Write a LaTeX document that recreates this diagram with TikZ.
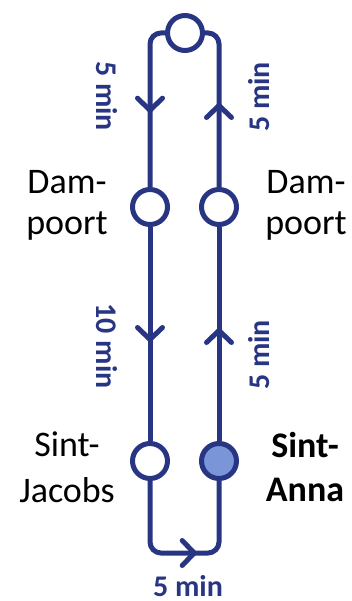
\documentclass[tikz,border=0pt]{standalone}
\usepackage{fontspec}
\setmainfont{Carlito}
\usetikzlibrary{arrows.meta,decorations.markings}
\definecolor{lineblue}{HTML}{283583}
\definecolor{fillblue}{HTML}{7B96D8}
\begin{document}
\begin{tikzpicture}[x=1pt,y=-1pt,
  stop/.style={circle,draw=lineblue,line width=5pt,fill=white,minimum size=35pt,inner sep=0pt},
  track/.style={draw=lineblue,line width=5pt,rounded corners=11pt},
  arrowat/.style={postaction={decorate,decoration={markings,mark=at position #1 with {\arrow{Straight Barb[length=12pt,width=25pt,round]}}}}},
  tlabel/.style={text=lineblue,font=\bfseries\fontsize{30}{32}\selectfont,inner sep=0pt},
  slabel/.style={text=black,font=\fontsize{36}{41}\selectfont,align=center,inner sep=0pt}
]
\useasboundingbox (0,0) rectangle (352,601);
% stops
\node[stop] (T) at (185,33) {};
\node[stop] (D1) at (150,207) {};
\node[stop] (D2) at (219,207) {};
\node[stop] (J) at (150,461) {};
\node[stop,fill=fillblue] (A) at (219,461) {};
\coordinate (B) at (185,553);
% tracks
\draw[track,arrowat=90pt] (T.west) -| (D1.north);
\draw[track,arrowat=84pt] (D2.north) |- (T.east);
\draw[track,arrowat=115pt] (D1.south) -- (J.north);
\draw[track,arrowat=113pt] (A.north) -- (D2.south);
\draw[track,arrowat=114pt] (J.south) |- (B) -| (A.south);
% time labels
\node[tlabel,rotate=-90] (t1) at (107,96) {5 min};
\node[tlabel,rotate=90] (t2) at (259,97) {5 min};
\node[tlabel,rotate=-90] (t3) at (107,346) {10 min};
\node[tlabel,rotate=90] (t4) at (259,355) {5 min};
\node[tlabel,anchor=base] (t5) at (188,596) {5 min};
% station labels
\node[slabel] (s1) at (67,205) {Dam-\\poort};
\node[slabel] (s2) at (306,205) {Dam-\\poort};
\node[slabel,font=\fontsize{36}{46}\selectfont] (s3) at (67,467) {Sint-\\Jacobs};
\node[slabel,font=\bfseries\fontsize{36}{44}\selectfont] (s4) at (305,467) {Sint-\\Anna};
\end{tikzpicture}
\end{document}
